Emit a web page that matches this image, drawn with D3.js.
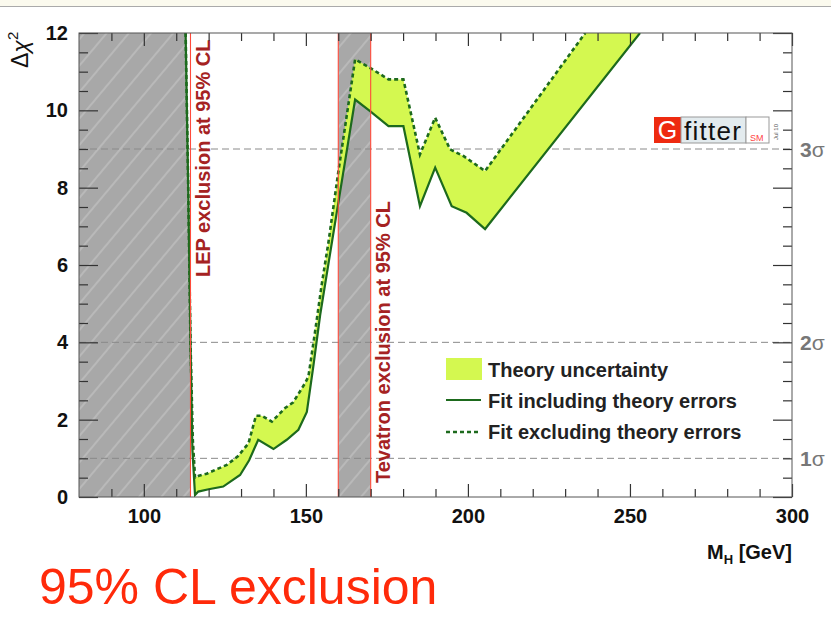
<!DOCTYPE html>
<html>
<head>
<meta charset="utf-8">
<style>
  body { margin: 0; background: #fff; }
  svg { font-family: "Liberation Sans", Arial, sans-serif; }
  .axis text { font-size: 20px; font-weight: bold; fill: #111; }
  .axis line { stroke: #333; stroke-width: 1.2; }
</style>
<script src="https://d3js.org/d3.v7.min.js"></script>
</head>
<body>
<script>
// fit excluding theory errors (dashed, upper edge of the band)
var exclMass = [112.9, 113.7, 114.4, 115.1, 115.8, 117, 119.4, 122, 125.6, 129, 132.3, 134.6, 136.4, 139.5,
                143.6, 146.1, 149.8, 150.8, 152.8, 154.9, 157, 160, 162.5, 165.2, 169.8, 175.5, 180.1,
                185.2, 189.9, 194.5, 198.6, 205.3, 236.2];
var exclChi2 = [12, 8, 4, 1.5, 0.5, 0.55, 0.6, 0.7, 0.83, 1.05, 1.39, 2.1, 2.1, 1.95,
                2.3, 2.45, 2.95, 3.12, 4.25, 5.5, 6.6, 8.4, 9.8, 11.32, 11.1, 10.8, 10.8,
                8.86, 9.81, 8.99, 8.82, 8.43, 12];

// fit including theory errors (solid, lower edge of the band)
var inclMass = [112.9, 113.7, 114.4, 115.0, 115.8, 116.8, 120, 124.5, 129.7, 132.5, 135.3, 140, 144.1,
                147.7, 150.3, 152.3, 154.4, 157, 160, 165.2, 169.8, 175.5, 180.1, 185.2, 189.9,
                195, 199.6, 205.3, 253.1];
var inclChi2 = [12, 8, 4, 1.2, 0.05, 0.14, 0.2, 0.27, 0.57, 0.95, 1.48, 1.24, 1.48,
                1.74, 2.2, 3.38, 4.7, 6.05, 7.6, 10.28, 9.98, 9.59, 9.59, 7.52, 8.52,
                7.52, 7.35, 6.93, 12];

var lepLimit = 114.4;
var tevatronRange = [160, 170];
var sigmaValues = [1, 4, 9];
var sigmaLabels = ['1', '2', '3'];
var xTicks = [100, 150, 200, 250, 300];
var yTicks = [0, 2, 4, 6, 8, 10, 12];
var legendLabels = ['Theory uncertainty', 'Fit including theory errors', 'Fit excluding theory errors'];

var W = 831, H = 623;
var pL = 79, pR = 792, pT = 33, pB = 497;

var svg = d3.select('body').append('svg')
  .attr('width', W).attr('height', H);

// beige strip at top of the slide
svg.append('rect').attr('x', 0).attr('y', 0).attr('width', W).attr('height', 6).attr('fill', '#fbfaee');
svg.append('line').attr('x1', 0).attr('x2', W).attr('y1', 6.5).attr('y2', 6.5)
  .attr('stroke', '#aaa').attr('stroke-width', 1);

var x = d3.scaleLinear().domain([80, 300]).range([pL, pR]);
var y = d3.scaleLinear().domain([0, 12]).range([pB, pT]);

var defs = svg.append('defs');
defs.append('clipPath').attr('id', 'plot')
  .append('rect').attr('x', pL).attr('y', pT).attr('width', pR - pL).attr('height', pB - pT);

var pat = defs.append('pattern').attr('id', 'hatch')
  .attr('patternUnits', 'userSpaceOnUse').attr('width', 17).attr('height', 17)
  .attr('patternTransform', 'rotate(40)');
pat.append('rect').attr('width', 17).attr('height', 17).attr('fill', '#a8a8a8');
pat.append('line').attr('x1', 1).attr('x2', 1).attr('y1', 0).attr('y2', 17)
  .attr('stroke', '#c2c2c2').attr('stroke-width', 1.3);

var g = svg.append('g').attr('clip-path', 'url(#plot)');

// excluded regions
g.append('rect').attr('x', x(80)).attr('y', pT)
  .attr('width', x(lepLimit) - x(80)).attr('height', pB - pT).attr('fill', 'url(#hatch)');
g.append('rect').attr('x', x(tevatronRange[0])).attr('y', pT)
  .attr('width', x(tevatronRange[1]) - x(tevatronRange[0])).attr('height', pB - pT)
  .attr('fill', 'url(#hatch)');

// white sliver right of the steep wall inside the LEP band
var wall = inclMass.map(function(m, i) { return [m, inclChi2[i]]; }).filter(function(d) { return d[0] <= 115.8; });
g.append('path').datum(wall)
  .attr('fill', '#fff')
  .attr('d', d3.area().x(function(d) { return x(d[0]); }).y0(y(12)).y1(function(d) { return y(d[1]); }));

// sigma reference lines
g.selectAll('.sig').data(sigmaValues).enter().append('line')
  .attr('x1', pL).attr('x2', pR)
  .attr('y1', function(d) { return y(d); }).attr('y2', function(d) { return y(d); })
  .attr('stroke', '#8a8a8a').attr('stroke-width', 1).attr('stroke-dasharray', '7,4');

// theory band
var upper = exclMass.map(function(m, i) { return [m, exclChi2[i]]; });
var lower = inclMass.map(function(m, i) { return [m, inclChi2[i]]; });
var band = upper.concat(lower.slice().reverse());
var line = d3.line().x(function(d) { return x(d[0]); }).y(function(d) { return y(d[1]); });

g.append('path').datum(band)
  .attr('d', line.curve(d3.curveLinearClosed))
  .attr('fill', '#d4f850');
line.curve(d3.curveLinear);

g.append('path').datum(lower).attr('d', line)
  .attr('fill', 'none').attr('stroke', '#1d6a1d').attr('stroke-width', 2.2);
g.append('path').datum(upper).attr('d', line)
  .attr('fill', 'none').attr('stroke', '#1d6a1d').attr('stroke-width', 2.6)
  .attr('stroke-dasharray', '4,3');

// red limit lines
g.selectAll('.lim').data([lepLimit, tevatronRange[0], tevatronRange[1]]).enter().append('line')
  .attr('x1', function(d) { return x(d); }).attr('x2', function(d) { return x(d); })
  .attr('y1', pT).attr('y2', pB)
  .attr('stroke', '#ff4a3a').attr('stroke-width', 1.1);

// rotated exclusion labels
svg.append('text')
  .attr('transform', 'translate(210,277) rotate(-90)')
  .attr('font-size', 20).attr('font-weight', 'bold').attr('fill', '#a52222')
  .text('LEP exclusion at 95% CL');
svg.append('text')
  .attr('transform', 'translate(390,483) rotate(-90)')
  .attr('font-size', 20).attr('font-weight', 'bold').attr('fill', '#a52222')
  .text('Tevatron exclusion at 95% CL');

// axes
var xMinor = d3.range(90, 300, 10).filter(function(d) { return d % 50 !== 0; });
var yMinor = d3.range(0.5, 12, 0.5).filter(function(d) { return d % 2 !== 0; });

function addAxis(axis, tx, ty) {
  var a = svg.append('g').attr('class', 'axis')
    .attr('transform', 'translate(' + tx + ',' + ty + ')').call(axis);
  a.select('.domain').remove();
  return a;
}

addAxis(d3.axisLeft(y).tickValues(yTicks).tickSize(-19).tickPadding(11), pL, 0);
addAxis(d3.axisLeft(y).tickValues(yMinor).tickSize(-9).tickFormat(''), pL, 0);
addAxis(d3.axisRight(y).tickValues(yTicks).tickSize(-19).tickFormat(''), pR, 0);
addAxis(d3.axisRight(y).tickValues(yMinor).tickSize(-9).tickFormat(''), pR, 0);
addAxis(d3.axisBottom(x).tickValues(xTicks).tickSize(-13).tickPadding(12), 0, pB);
addAxis(d3.axisBottom(x).tickValues(xMinor).tickSize(-8).tickFormat(''), 0, pB);
addAxis(d3.axisTop(x).tickValues(xTicks).tickSize(-13).tickFormat(''), 0, pT);
addAxis(d3.axisTop(x).tickValues(xMinor).tickSize(-8).tickFormat(''), 0, pT);

svg.append('rect').attr('x', pL).attr('y', pT)
  .attr('width', pR - pL).attr('height', pB - pT)
  .attr('fill', 'none').attr('stroke', '#555').attr('stroke-width', 1);

// sigma labels on the right
var sig = svg.selectAll('.siglab').data(sigmaValues).enter().append('text')
  .attr('x', 800).attr('y', function(d) { return y(d) + 8; })
  .attr('font-size', 21).attr('fill', '#777');
sig.append('tspan').attr('font-weight', 'bold').text(function(d, i) { return sigmaLabels[i]; });
sig.append('tspan').text('σ');

// y title
var yt = svg.append('text')
  .attr('transform', 'translate(28,68) rotate(-90)')
  .attr('font-size', 23).attr('fill', '#111');
yt.append('tspan').text('Δ');
yt.append('tspan').attr('font-style', 'italic').text('χ');
yt.append('tspan').attr('font-size', 15).attr('dy', -10).text('2');

// x title
var xt = svg.append('text').attr('x', 792).attr('y', 559).attr('text-anchor', 'end')
  .attr('font-size', 20).attr('font-weight', 'bold').attr('fill', '#111');
xt.append('tspan').text('M');
xt.append('tspan').attr('font-size', 13).attr('dy', 5).text('H');
xt.append('tspan').attr('dy', -5).text(' [GeV]');

// legend
var lg = svg.append('g').attr('transform', 'translate(446,0)');
lg.append('rect').attr('x', 0).attr('y', 358).attr('width', 36).attr('height', 22).attr('fill', '#d4f850');
lg.append('line').attr('x1', 0).attr('x2', 35).attr('y1', 400).attr('y2', 400)
  .attr('stroke', '#1d6a1d').attr('stroke-width', 2.2);
lg.append('line').attr('x1', 0).attr('x2', 35).attr('y1', 432).attr('y2', 432)
  .attr('stroke', '#1d6a1d').attr('stroke-width', 2.6).attr('stroke-dasharray', '4,3');
lg.selectAll('.lt').data(legendLabels).enter().append('text')
  .attr('x', 42).attr('y', function(d, i) { return 377 + i * 31; })
  .attr('font-size', 20).attr('font-weight', 'bold').attr('fill', '#222')
  .text(function(d) { return d; });

// Gfitter logo
var logo = svg.append('g');
logo.append('rect').attr('x', 654).attr('y', 117).attr('width', 27).attr('height', 26).attr('fill', '#ee2a10');
logo.append('rect').attr('x', 681).attr('y', 117).attr('width', 65).attr('height', 26)
  .attr('fill', '#e3ebee').attr('stroke', '#999');
logo.append('rect').attr('x', 746).attr('y', 117).attr('width', 23).attr('height', 26)
  .attr('fill', '#fff').attr('stroke', '#999');
logo.append('text').attr('x', 667.5).attr('y', 139).attr('text-anchor', 'middle')
  .attr('font-size', 25).attr('fill', '#fff').text('G');
logo.append('text').attr('x', 684).attr('y', 140)
  .attr('font-size', 26).attr('fill', '#111').attr('textLength', 57).text('fitter');
logo.append('text').attr('x', 750).attr('y', 141)
  .attr('font-size', 9).attr('fill', '#f44').text('SM');
logo.append('text').attr('transform', 'translate(778,140) rotate(-90)')
  .attr('font-size', 6).attr('fill', '#555').text('Jul 10');

// slide caption
svg.append('text').attr('x', 39).attr('y', 604)
  .attr('font-size', 50).attr('fill', '#ff2a0a').text('95% CL exclusion');
</script>
</body>
</html>
